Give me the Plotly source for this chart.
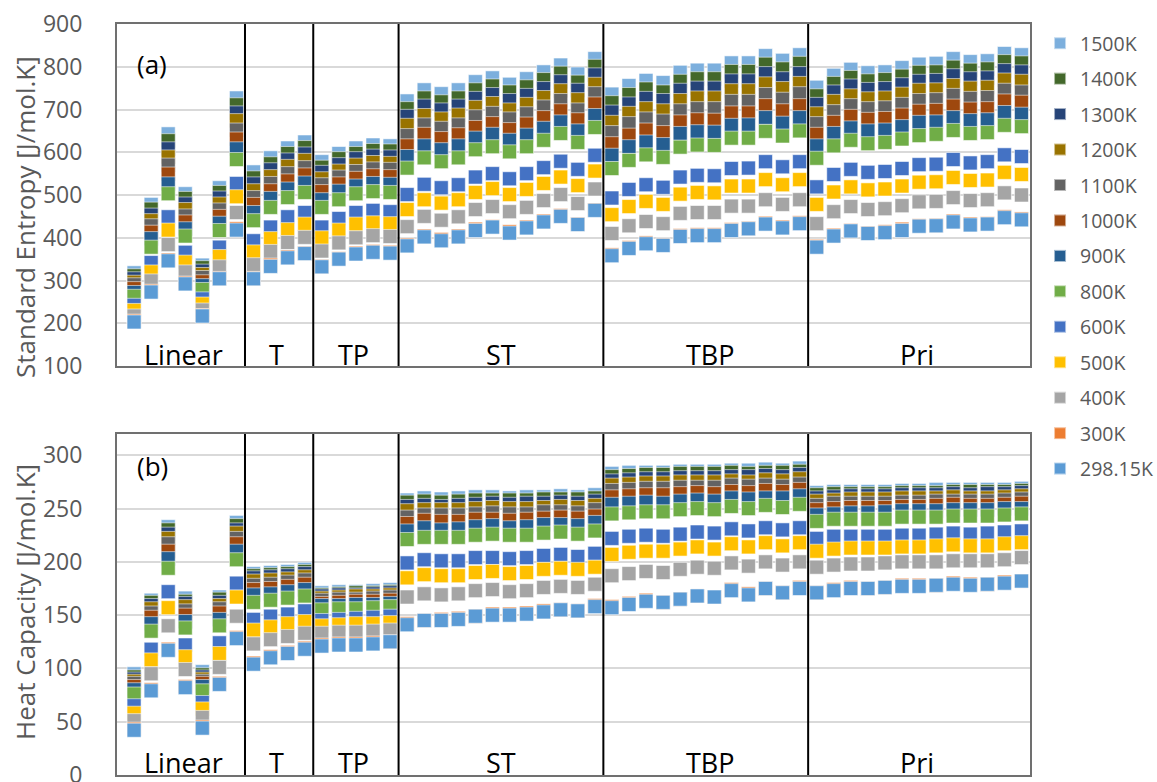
import plotly.graph_objects as go

# ---------------- data ----------------
x_index = list(range(1, 54))  # 53 molecules: Linear 1-7, T 8-11, TP 12-16, ST 17-28, TBP 29-40, Pri 41-53

temps = ["1500K", "1400K", "1300K", "1200K", "1100K", "1000K", "900K",
         "800K", "600K", "500K", "400K", "300K", "298.15K"]

colors = ["#7CAFDD", "#43682B", "#264478", "#997300", "#636363", "#9E480E", "#255E91",
          "#70AD47", "#4472C4", "#FFC000", "#A5A5A5", "#ED7D31", "#5B9BD5"]

# Standard entropy [J/mol.K]
S_1500 = [318, 478, 643, 503, 336, 517, 727, 554, 587, 610, 624, 578, 597, 610, 617, 615,
          720, 746, 737, 746, 765, 774, 759, 772, 788, 804, 783, 819,
          736, 756, 768, 763, 787, 792, 792, 809, 809, 826, 815, 828,
          752, 780, 794, 786, 788, 798, 806, 808, 819, 812, 814, 831, 828]
S_1400 = [311, 467, 627, 492, 330, 506, 711, 540, 573, 597, 611, 565, 585, 597, 604, 603,
          702, 727, 718, 727, 746, 755, 741, 753, 770, 785, 764, 801,
          716, 735, 748, 741, 766, 772, 772, 789, 789, 806, 795, 808,
          732, 761, 775, 767, 770, 778, 787, 788, 799, 792, 795, 812, 809]
S_1300 = [304, 453, 608, 479, 322, 493, 692, 526, 559, 582, 596, 553, 571, 585, 591, 589,
          684, 708, 699, 708, 726, 735, 721, 733, 749, 765, 745, 781,
          694, 713, 726, 721, 745, 750, 750, 767, 767, 784, 772, 784,
          712, 741, 755, 747, 749, 758, 766, 768, 779, 772, 774, 791, 788]
S_1200 = [296, 440, 589, 466, 314, 479, 674, 510, 543, 567, 581, 538, 556, 570, 576, 574,
          663, 686, 678, 687, 705, 714, 699, 712, 728, 744, 723, 759,
          670, 691, 702, 697, 721, 727, 727, 744, 744, 760, 749, 761,
          690, 719, 732, 725, 727, 736, 745, 746, 756, 750, 752, 769, 766]
S_1100 = [290, 428, 570, 451, 307, 465, 652, 494, 527, 550, 564, 524, 542, 555, 561, 560,
          639, 664, 656, 664, 683, 691, 678, 690, 706, 721, 699, 737,
          646, 667, 678, 673, 697, 702, 702, 719, 719, 735, 724, 737,
          667, 695, 709, 702, 704, 712, 721, 723, 733, 726, 728, 745, 741]
S_1000 = [281, 413, 549, 437, 297, 450, 631, 478, 510, 533, 547, 508, 526, 539, 545, 543,
          615, 642, 632, 641, 658, 667, 653, 666, 681, 697, 676, 713,
          620, 640, 652, 646, 671, 676, 675, 692, 692, 709, 697, 709,
          642, 670, 684, 677, 679, 687, 696, 698, 708, 701, 702, 720, 717]
S_900 = [272, 398, 526, 421, 288, 434, 608, 459, 492, 514, 528, 489, 509, 521, 527, 525,
         590, 615, 606, 615, 633, 642, 628, 640, 656, 671, 650, 686,
         593, 613, 624, 618, 644, 648, 647, 663, 664, 681, 668, 681,
         615, 644, 657, 650, 652, 660, 670, 671, 681, 674, 676, 693, 689]
S_800 = [263, 378, 503, 404, 279, 417, 583, 440, 471, 494, 506, 471, 489, 503, 508, 506,
         563, 587, 578, 587, 606, 613, 601, 613, 628, 644, 623, 658,
         562, 581, 594, 588, 612, 617, 616, 633, 633, 649, 638, 650,
         586, 615, 628, 620, 623, 631, 639, 642, 651, 644, 646, 663, 660]
S_600 = [242, 342, 449, 366, 257, 378, 527, 393, 425, 449, 459, 425, 445, 459, 464, 461,
         501, 525, 517, 524, 542, 550, 538, 550, 564, 579, 560, 593,
         493, 513, 524, 518, 542, 546, 545, 562, 563, 578, 566, 578,
         519, 548, 560, 553, 555, 562, 571, 572, 583, 575, 578, 594, 590]
S_500 = [230, 320, 418, 343, 245, 356, 496, 367, 398, 419, 432, 400, 418, 432, 435, 433,
         466, 489, 481, 489, 506, 515, 501, 513, 527, 542, 522, 556,
         454, 473, 485, 478, 502, 506, 505, 521, 521, 536, 524, 536,
         478, 507, 519, 512, 514, 521, 530, 531, 541, 534, 535, 553, 548]
S_400 = [217, 299, 384, 320, 231, 332, 459, 337, 368, 389, 401, 369, 388, 400, 405, 403,
         426, 450, 441, 449, 466, 473, 461, 471, 487, 501, 480, 514,
         410, 428, 438, 433, 457, 459, 459, 474, 474, 489, 478, 489,
         433, 461, 473, 466, 468, 475, 484, 485, 494, 487, 489, 505, 500]
S_300 = [205, 275, 348, 294, 218, 305, 421, 305, 336, 355, 364, 333, 351, 364, 368, 366,
         383, 404, 396, 404, 420, 426, 414, 425, 439, 452, 432, 465,
         360, 377, 388, 383, 405, 407, 407, 419, 422, 434, 425, 435,
         380, 406, 417, 411, 414, 420, 428, 429, 439, 432, 433, 449, 444]
S_298 = [203, 273, 346, 292, 217, 304, 418, 304, 333, 353, 363, 332, 350, 362, 366, 364,
         381, 402, 393, 402, 417, 425, 411, 423, 437, 450, 431, 464,
         358, 375, 386, 382, 403, 405, 405, 417, 421, 432, 423, 433,
         378, 404, 416, 410, 412, 417, 427, 428, 437, 430, 432, 447, 442]

# Heat capacity [J/mol.K]
Cp_1500 = [95, 164, 233, 166, 97, 167, 237, 189, 190, 191, 193, 171, 172, 172, 173, 174,
           258, 260, 259, 260, 261, 261, 260, 261, 261, 262, 261, 263,
           283, 284, 284, 284, 285, 285, 285, 286, 286, 287, 286, 288,
           265, 266, 266, 266, 266, 267, 267, 268, 268, 268, 268, 268, 269]
Cp_1400 = [92, 162, 230, 163, 94, 165, 234, 187, 188, 189, 191, 169, 170, 171, 171, 172,
           256, 257, 256, 257, 258, 258, 258, 258, 259, 259, 259, 260,
           280, 281, 282, 282, 283, 283, 283, 284, 283, 284, 284, 285,
           263, 264, 264, 264, 264, 265, 265, 265, 266, 266, 266, 266, 267]
Cp_1300 = [90, 159, 226, 161, 92, 162, 230, 185, 186, 187, 189, 168, 169, 169, 170, 171,
           252, 253, 252, 253, 254, 255, 254, 255, 255, 256, 255, 257,
           276, 277, 278, 278, 279, 279, 279, 280, 280, 281, 280, 282,
           260, 261, 262, 262, 262, 263, 263, 263, 264, 263, 264, 264, 265]
Cp_1200 = [88, 156, 222, 158, 90, 159, 227, 182, 183, 184, 186, 166, 167, 168, 168, 169,
           248, 249, 249, 249, 250, 251, 250, 250, 251, 252, 251, 253,
           272, 273, 274, 274, 275, 275, 275, 276, 275, 277, 276, 278,
           257, 258, 259, 259, 259, 260, 260, 260, 261, 260, 260, 261, 262]
Cp_1100 = [86, 152, 217, 154, 88, 156, 222, 178, 179, 181, 183, 164, 165, 165, 166, 167,
           242, 244, 244, 244, 245, 246, 245, 245, 247, 247, 246, 249,
           267, 268, 269, 269, 270, 270, 270, 272, 271, 272, 271, 273,
           253, 255, 255, 255, 255, 256, 256, 257, 257, 257, 257, 258, 259]
Cp_1000 = [83, 148, 210, 150, 86, 152, 217, 174, 175, 177, 179, 161, 162, 163, 163, 164,
           236, 239, 238, 238, 240, 240, 239, 240, 241, 242, 241, 243,
           261, 262, 263, 263, 264, 265, 264, 266, 265, 267, 266, 268,
           249, 250, 251, 251, 251, 252, 252, 253, 254, 253, 253, 254, 255]
Cp_900 = [80, 142, 203, 144, 83, 146, 210, 169, 170, 172, 174, 159, 159, 160, 160, 161,
          229, 232, 230, 231, 233, 234, 232, 233, 235, 235, 234, 237,
          254, 255, 256, 255, 257, 258, 257, 260, 259, 260, 260, 262,
          244, 245, 246, 246, 247, 248, 248, 248, 249, 249, 249, 250, 250]
Cp_800 = [76, 135, 194, 138, 79, 140, 202, 162, 164, 166, 168, 155, 156, 156, 157, 158,
          221, 223, 223, 223, 225, 226, 225, 225, 227, 228, 226, 229,
          245, 246, 247, 247, 249, 250, 249, 252, 250, 253, 251, 254,
          238, 240, 240, 240, 240, 242, 242, 242, 243, 243, 243, 244, 245]
Cp_600 = [65, 118, 172, 122, 68, 124, 180, 146, 149, 151, 154, 145, 146, 147, 148, 149,
          199, 202, 201, 201, 204, 204, 203, 204, 206, 207, 205, 208,
          222, 224, 225, 224, 226, 228, 227, 231, 229, 232, 230, 232,
          222, 224, 224, 224, 224, 225, 225, 226, 227, 226, 227, 228, 229]
Cp_500 = [58, 108, 157, 111, 62, 114, 167, 136, 139, 142, 144, 140, 141, 142, 142, 143,
          185, 188, 187, 187, 190, 191, 189, 190, 193, 194, 193, 195,
          207, 209, 210, 210, 212, 214, 212, 217, 214, 218, 215, 218,
          210, 212, 213, 213, 213, 214, 214, 215, 216, 215, 215, 217, 218]
Cp_400 = [51, 95, 140, 99, 54, 101, 149, 123, 127, 130, 133, 133, 134, 134, 135, 136,
          167, 170, 169, 170, 173, 174, 172, 173, 176, 177, 176, 179,
          187, 189, 191, 190, 193, 195, 194, 199, 196, 200, 197, 200,
          195, 197, 198, 198, 199, 200, 200, 200, 201, 201, 201, 202, 204]
Cp_300 = [43, 80, 118, 83, 45, 86, 129, 105, 111, 115, 119, 122, 123, 123, 124, 125,
          142, 145, 146, 147, 149, 151, 151, 152, 154, 155, 154, 159,
          158, 161, 164, 162, 165, 168, 167, 174, 170, 175, 171, 176,
          171, 174, 176, 175, 176, 178, 178, 178, 180, 179, 179, 181, 182]
Cp_298 = [42, 79, 117, 82, 44, 85, 128, 104, 110, 114, 118, 121, 122, 122, 123, 125,
          141, 145, 145, 146, 149, 150, 150, 151, 153, 155, 154, 158,
          157, 160, 163, 162, 165, 168, 167, 173, 169, 175, 171, 175,
          171, 173, 175, 175, 176, 177, 177, 178, 179, 178, 179, 180, 182]

group_names = ["Linear", "T", "TP", "ST", "TBP", "Pri"]

S_series = [S_1500, S_1400, S_1300, S_1200, S_1100, S_1000, S_900,
            S_800, S_600, S_500, S_400, S_300, S_298]
Cp_series = [Cp_1500, Cp_1400, Cp_1300, Cp_1200, Cp_1100, Cp_1000, Cp_900,
             Cp_800, Cp_600, Cp_500, Cp_400, Cp_300, Cp_298]

# ---------------- layout constants ----------------
group_dividers = [7.5, 11.5, 16.5, 28.5, 40.5]
group_label_x = [3.9, 9.35, 13.85, 22.5, 34.75, 46.85]
FONT = "Open Sans"
GREY = "#595959"
MSIZE = 14
MLINE = dict(width=1, color="rgba(255,255,255,0.55)")

fig = go.Figure()

for name, col, ys in zip(temps, colors, S_series):
    fig.add_trace(go.Scatter(
        x=x_index, y=ys, mode="markers", name=name, legendgroup=name,
        marker=dict(symbol="square", size=MSIZE, color=col, line=MLINE),
        xaxis="x", yaxis="y", showlegend=True))

for name, col, ys in zip(temps, colors, Cp_series):
    fig.add_trace(go.Scatter(
        x=x_index, y=ys, mode="markers", name=name, legendgroup=name,
        marker=dict(symbol="square", size=MSIZE, color=col, line=MLINE),
        xaxis="x2", yaxis="y2", showlegend=False))

axis_line = dict(showline=True, mirror=True, linecolor="#707070", linewidth=2)
xcommon = dict(range=[0, 53.5], showgrid=False, zeroline=False, showticklabels=False,
               ticks="", **axis_line)
ycommon = dict(showgrid=True, gridcolor="#D9D9D9", gridwidth=1.5, zeroline=False,
               ticks="outside", ticklen=28, tickcolor="rgba(0,0,0,0)",
               ticklabeloverflow="allow",
               tickfont=dict(family=FONT, size=23, color=GREY), **axis_line)

top_dom = [0.5446, 1.0]
bot_dom = [0.0, 0.4541]

fig.update_layout(
    width=1157, height=782,
    margin=dict(l=117, r=127, t=24, b=7, pad=0, autoexpand=False),
    paper_bgcolor="white", plot_bgcolor="white",
    font=dict(family=FONT, color=GREY),
    xaxis=dict(domain=[0, 1], anchor="y", **xcommon),
    xaxis2=dict(domain=[0, 1], anchor="y2", **xcommon),
    yaxis=dict(domain=top_dom, anchor="x", range=[100, 900], dtick=100, tick0=0, **ycommon),
    yaxis2=dict(domain=bot_dom, anchor="x2", range=[0, 320], dtick=50, tick0=0, **ycommon),
    legend=dict(x=1.011, xanchor="left", y=1.0, yanchor="top",
                font=dict(family=FONT, size=19.5, color=GREY),
                tracegroupgap=7.1, itemsizing="constant", bgcolor="rgba(0,0,0,0)"),
)

shapes = []
for d in group_dividers:
    for xr, yr in (("x", "y domain"), ("x2", "y2 domain")):
        shapes.append(dict(type="line", xref=xr, yref=yr, x0=d, x1=d, y0=0, y1=1,
                           line=dict(color="black", width=2)))
fig.update_layout(shapes=shapes)

ann = []
for name, gx in zip(group_names, group_label_x):
    ann.append(dict(x=gx, y=128, xref="x", yref="y", text=name, showarrow=False,
                    font=dict(family=FONT, size=27, color="black"),
                    xanchor="center", yanchor="middle"))
    ann.append(dict(x=gx, y=12, xref="x2", yref="y2", text=name, showarrow=False,
                    font=dict(family=FONT, size=27, color="black"),
                    xanchor="center", yanchor="middle"))
ann.append(dict(x=2.05, y=807, xref="x", yref="y", text="(a)", showarrow=False,
                font=dict(family=FONT, size=26, color="black"), xanchor="center", yanchor="middle"))
ann.append(dict(x=2.1, y=290, xref="x2", yref="y2", text="(b)", showarrow=False,
                font=dict(family=FONT, size=26, color="black"), xanchor="center", yanchor="middle"))
ann.append(dict(x=-0.1008, y=0.743, xref="paper", yref="paper", text="Standard Entropy [J/mol.K]",
                textangle=-90, showarrow=False, font=dict(family=FONT, size=26, color=GREY),
                xanchor="center", yanchor="middle"))
ann.append(dict(x=-0.1008, y=0.2304, xref="paper", yref="paper", text="Heat Capacity [J/mol.K]",
                textangle=-90, showarrow=False, font=dict(family=FONT, size=26, color=GREY),
                xanchor="center", yanchor="middle"))
fig.update_layout(annotations=ann)

# remove the browser's default 8px body margin so the 1157x782 figure fills the window exactly
fig.write_html("out.html",
               config={"displayModeBar": False},
               post_script="document.body.style.margin='0px';document.body.style.overflow='hidden';")
